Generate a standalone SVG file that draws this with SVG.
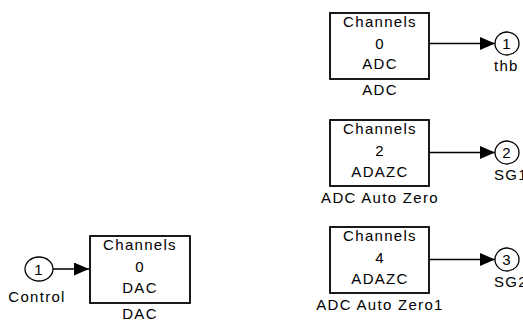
<svg xmlns="http://www.w3.org/2000/svg" width="523" height="321" viewBox="0 0 523 321">
<defs>
<style>
text{font-family:"Liberation Sans",Arial,sans-serif;font-size:15px;letter-spacing:1.3px;fill:#000;text-anchor:middle}
.blk{fill:#fff;stroke:#000;stroke-width:1.8}
.port{fill:#fff;stroke:#000;stroke-width:1.3}
.wire{fill:none;stroke:#000;stroke-width:1.3}
</style>
<marker id="ah" markerWidth="15" markerHeight="13" refX="15" refY="6.5" orient="auto" markerUnits="userSpaceOnUse">
<path d="M0,0 L15,6.5 L0,13 Z" fill="#000"/>
</marker>
</defs>
<rect width="523" height="321" fill="#fff"/>
<g id="connectors">
<path class="wire" d="M429,43.5 H495" marker-end="url(#ah)"/>
<path class="wire" d="M429,152.5 H495" marker-end="url(#ah)"/>
<path class="wire" d="M429,259.5 H495" marker-end="url(#ah)"/>
<path class="wire" d="M53,269 H89" marker-end="url(#ah)"/>
</g>
<g id="adc">
<rect class="blk" x="330" y="13" width="99" height="66"/>
<text x="380" y="27">Channels</text>
<text x="380" y="48.5">0</text>
<text x="380" y="69">ADC</text>
<text x="380" y="95">ADC</text>
</g>
<g id="adc-auto-zero">
<rect class="blk" x="330" y="120" width="99" height="66"/>
<text x="380" y="134">Channels</text>
<text x="380" y="156">2</text>
<text x="380" y="176.5">ADAZC</text>
<text x="380" y="203">ADC Auto Zero</text>
</g>
<g id="adc-auto-zero1">
<rect class="blk" x="330" y="227" width="99" height="66"/>
<text x="380" y="241">Channels</text>
<text x="380" y="263">4</text>
<text x="380" y="283.5">ADAZC</text>
<text x="380" y="310">ADC Auto Zero1</text>
</g>
<g id="dac">
<rect class="blk" x="90" y="236" width="100" height="67"/>
<text x="140" y="250">Channels</text>
<text x="140" y="272">0</text>
<text x="140" y="292.5">DAC</text>
<text x="140" y="319">DAC</text>
</g>
<g id="out-thb">
<ellipse class="port" cx="507" cy="43.5" rx="12" ry="11.5"/>
<text x="507" y="49">1</text>
<text x="494" y="71" style="text-anchor:start">thb</text>
</g>
<g id="out-sg1">
<ellipse class="port" cx="507" cy="152.5" rx="12" ry="11.5"/>
<text x="507" y="158">2</text>
<text x="494" y="180" style="text-anchor:start">SG1</text>
</g>
<g id="out-sg2">
<ellipse class="port" cx="507" cy="259.5" rx="12" ry="11.5"/>
<text x="507" y="265">3</text>
<text x="494" y="287" style="text-anchor:start">SG2</text>
</g>
<g id="in-control">
<ellipse class="port" cx="39" cy="269" rx="14" ry="12"/>
<text x="39" y="274.5">1</text>
<text x="37" y="302">Control</text>
</g>
</svg>
